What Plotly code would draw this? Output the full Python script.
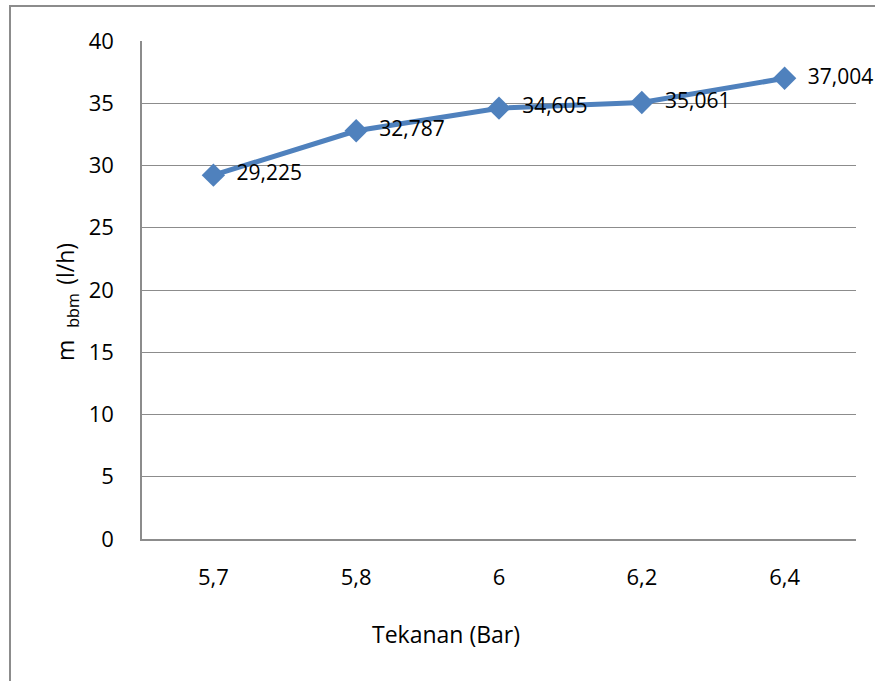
import plotly.graph_objects as go

# Fuel consumption versus pressure
tekanan = ["5,7", "5,8", "6", "6,2", "6,4"]
m_bbm = [29.225, 32.787, 34.605, 35.061, 37.004]
y_ticks = [0, 5, 10, 15, 20, 25, 30, 35, 40]

# value labels use a decimal comma, built from the plotted values
label_teks = ["\u00a0\u00a0" + f"{v:.3f}".replace(".", ",") for v in m_bbm]

W, H = 875, 681
L, R, T, B = 142, 19, 41, 142
pw, ph = W - L - R, H - T - B

def px_x(x):
    return (x - L) / pw

def px_y(y):
    return 1 - (y - T) / ph

FONT = "Open Sans"
GRID = "#8c8c8c"
BLUE = "#4f81bd"

fig = go.Figure()
fig.add_trace(go.Scatter(
    x=list(range(len(tekanan))),
    y=m_bbm,
    mode="lines+markers+text",
    text=label_teks,
    textposition="middle right",
    textfont=dict(family=FONT, size=21, color="#000000"),
    line=dict(color=BLUE, width=5),
    marker=dict(symbol="diamond", size=18, color=BLUE),
    cliponaxis=False,
    showlegend=False,
))

fig.update_layout(
    width=W, height=H,
    margin=dict(l=L, r=R, t=T, b=B),
    paper_bgcolor="white",
    plot_bgcolor="white",
    font=dict(family=FONT, size=22, color="#000000"),
    xaxis=dict(
        range=[-0.5, len(tekanan) - 0.5],
        tickmode="array",
        tickvals=list(range(len(tekanan))),
        ticktext=tekanan,
        showgrid=False,
        zeroline=False,
        showline=True, linecolor=GRID, linewidth=2,
        ticks="", ticklabelstandoff=18,
        tickfont=dict(family=FONT, size=22),
    ),
    yaxis=dict(
        range=[0, 40],
        tickmode="array",
        tickvals=y_ticks,
        ticktext=[str(v) for v in y_ticks],
        showgrid=True, gridcolor=GRID, gridwidth=1.3,
        zeroline=False,
        showline=True, linecolor=GRID, linewidth=1.5,
        ticks="", ticklabelstandoff=22,
        tickfont=dict(family=FONT, size=22),
    ),
    shapes=[
        dict(type="rect", xref="paper", yref="paper",
             x0=px_x(10), x1=px_x(890), y0=px_y(700), y1=px_y(6),
             line=dict(color=GRID, width=2), fillcolor="rgba(0,0,0,0)",
             layer="below"),
    ],
    annotations=[
        dict(text="Tekanan (Bar)", xref="paper", yref="paper",
             x=px_x(446), y=px_y(634), showarrow=False,
             xanchor="center", yanchor="middle",
             font=dict(family=FONT, size=23)),
        dict(text="m\u00a0\u00a0<sub>bbm\u00a0\u00a0</sub>(l/h)", xref="paper", yref="paper",
             x=px_x(66), y=px_y(302), showarrow=False, textangle=-90,
             xanchor="center", yanchor="middle",
             font=dict(family=FONT, size=23)),
    ],
)

fig.write_html("out.html")
